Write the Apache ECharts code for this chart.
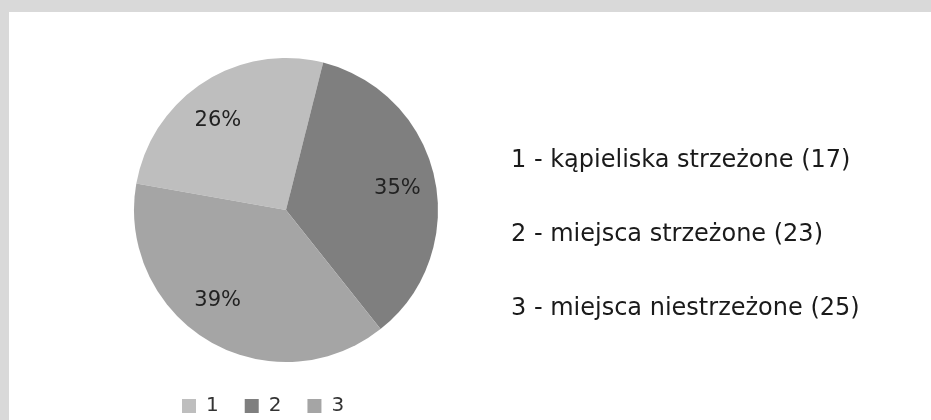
<!DOCTYPE html>
<html>
<head>
<meta charset="utf-8">
<script src="https://cdn.jsdelivr.net/npm/echarts@6/dist/echarts.min.js"></script>
<style>
html,body{margin:0;padding:0;}
#chart{width:931px;height:420px;}
</style>
</head>
<body>
<div id="chart"></div>
<script>
var categories = ['1', '2', '3'];
var descriptions = ['kąpieliska strzeżone', 'miejsca strzeżone', 'miejsca niestrzeżone'];
var values = [17, 23, 25];
var colors = ['#bebebe', '#7f7f7f', '#a5a5a5'];
var labelPadding = [[0, 10, 0, 0], [0, 4, 0, 0], [0, 18, 0, 0]];
var labelFormats = ['\n{d}%', '\n{d}%', '{d}%\n'];
var labelLineHeights = [16, 5, 18];

var pieData = categories.map(function (c, i) {
  return { name: c, value: values[i], itemStyle: { color: colors[i] } };
});
var labelData = categories.map(function (c, i) {
  return {
    name: c, value: values[i],
    label: { padding: labelPadding[i], formatter: labelFormats[i], lineHeight: labelLineHeights[i] }
  };
});

var chart = echarts.init(document.getElementById('chart'));
chart.setOption({
  animation: false,
  backgroundColor: '#d9d9d9',
  graphic: [{
    type: 'rect', left: 9, top: 12, z: -10,
    shape: { width: 922, height: 408 },
    style: { fill: '#ffffff' }
  }],
  legend: [{
    data: categories,
    left: 177, top: 391,
    icon: 'rect',
    itemWidth: 14, itemHeight: 14, itemGap: 26,
    selectedMode: false,
    textStyle: { fontFamily: 'DejaVu Sans', fontSize: 20, color: '#333', padding: [0, 0, 0, 5] }
  }, {
    data: categories,
    orient: 'vertical',
    left: 501, top: 144,
    icon: 'none', itemWidth: 0, itemHeight: 24, itemGap: 50,
    selectedMode: false,
    formatter: function (name) {
      var i = categories.indexOf(name);
      return name + ' - ' + descriptions[i] + ' (' + values[i] + ')';
    },
    textStyle: { fontFamily: 'DejaVu Sans', fontSize: 24, color: '#1a1a1a', lineHeight: 24 }
  }],
  series: [{
    type: 'pie',
    center: [286, 210],
    radius: 152,
    startAngle: 170,
    label: { show: false },
    labelLine: { show: false },
    emphasis: { disabled: true },
    data: pieData
  }, {
    type: 'pie',
    center: [286, 210],
    radius: [70, 156],
    startAngle: 170,
    silent: true,
    percentPrecision: 0,
    itemStyle: { color: 'rgba(0,0,0,0)' },
    emphasis: { disabled: true },
    label: {
      show: true, position: 'inside', formatter: '{d}%',
      fontFamily: 'DejaVu Sans', fontSize: 21, color: '#222'
    },
    labelLine: { show: false },
    data: labelData
  }]
});
</script>
</body>
</html>
